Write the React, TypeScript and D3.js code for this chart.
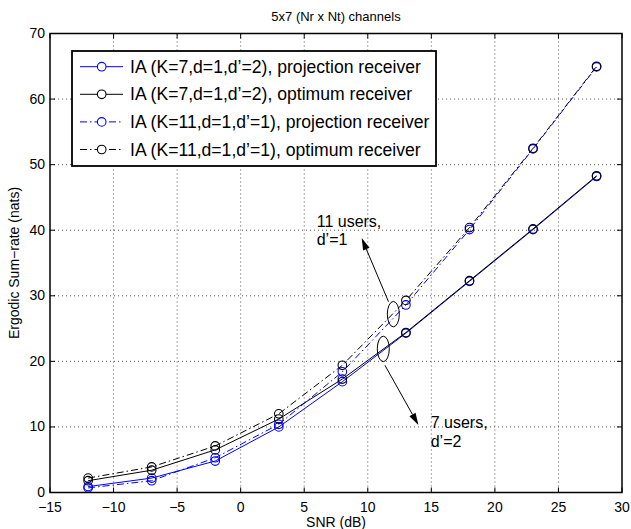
import React from 'react';
import * as d3 from 'd3';

const snr = [-12, -7, -2, 3, 8, 13, 18, 23, 28];
const k7Proj = [0.9, 2.2, 4.8, 10.0, 16.9, 24.3, 32.2, 40.1, 48.2];
const k7Opt = [1.8, 3.4, 6.5, 11.2, 17.3, 24.4, 32.3, 40.2, 48.3];
const k11Proj = [0.7, 1.8, 5.3, 10.4, 18.4, 28.6, 40.1, 52.4, 64.9];
const k11Opt = [2.2, 3.9, 7.1, 12.0, 19.4, 29.3, 40.4, 52.5, 65.0];

const xTicks = [-15, -10, -5, 0, 5, 10, 15, 20, 25, 30];
const yTicks = [0, 10, 20, 30, 40, 50, 60, 70];

const series = [
  { label: "IA (K=7,d=1,d\u2019=2), projection receiver", values: k7Proj, color: "#0000ff", dash: null },
  { label: "IA (K=7,d=1,d\u2019=2), optimum receiver", values: k7Opt, color: "#000000", dash: null },
  { label: "IA (K=11,d=1,d\u2019=1), projection receiver", values: k11Proj, color: "#0000ff", dash: "7,3,1.5,3" },
  { label: "IA (K=11,d=1,d\u2019=1), optimum receiver", values: k11Opt, color: "#000000", dash: "7,3,1.5,3" },
];

// annotations in data units
const ellipses = [
  { cx: 12.01, cy: 27.2 },
  { cx: 11.22, cy: 21.9 },
];
const arrows = [
  { x1: 11.63, y1: 29.1, x2: 9.52, y2: 38.8 },
  { x1: 11.35, y1: 19.4, x2: 13.98, y2: 10.3 },
];
const notes = [
  { x: 5.98, y: 40.5, text: "11 users," },
  { x: 5.98, y: 37.7, text: "d\u2019=1" },
  { x: 14.95, y: 9.8, text: "7 users," },
  { x: 14.95, y: 7.0, text: "d\u2019=2" },
];

const W = 631, H = 529;
const m = { left: 50, right: 622, top: 33.5, bottom: 492.5 };
const font = "'Liberation Sans', Arial, sans-serif";

export default function App() {
  const x = d3.scaleLinear().domain([-15, 30]).range([m.left, m.right]);
  const y = d3.scaleLinear().domain([0, 70]).range([m.bottom, m.top]);
  const line = d3.line<number>().x((d, i) => x(snr[i])).y(d => y(d));

  const head = (a) => {
    const x1 = x(a.x1), y1 = y(a.y1), x2 = x(a.x2), y2 = y(a.y2);
    const ang = Math.atan2(y2 - y1, x2 - x1);
    const L = 12, w = 3.5;
    const bx = x2 - L * Math.cos(ang), by = y2 - L * Math.sin(ang);
    const p1 = [bx + w * Math.sin(ang), by - w * Math.cos(ang)];
    const p2 = [bx - w * Math.sin(ang), by + w * Math.cos(ang)];
    return { x1, y1, bx, by, d: `M${x2},${y2}L${p1[0]},${p1[1]}L${p2[0]},${p2[1]}Z` };
  };

  const legX = 72, legY = 51, legW = 364, legH = 115, rowH = 27.6;

  return (
    <div style={{ position: "absolute", left: 0, top: 0 }}>
      <svg width={W} height={H} style={{ display: "block", background: "#fff" }} fontFamily={font}>
        <rect x={0} y={0} width={W} height={H} fill="#fff" />
        {/* grid */}
        {xTicks.slice(1, -1).map(t => (
          <line key={"gx" + t} x1={x(t)} x2={x(t)} y1={m.top} y2={m.bottom}
            stroke="#555" strokeWidth={1} strokeDasharray="1,3" />
        ))}
        {yTicks.slice(1, -1).map(t => (
          <line key={"gy" + t} x1={m.left} x2={m.right} y1={y(t)} y2={y(t)}
            stroke="#555" strokeWidth={1} strokeDasharray="1,3" />
        ))}
        {/* ticks */}
        {xTicks.map(t => (
          <g key={"tx" + t}>
            <line x1={x(t)} x2={x(t)} y1={m.bottom} y2={m.bottom - 5} stroke="#000" />
            <line x1={x(t)} x2={x(t)} y1={m.top} y2={m.top + 5} stroke="#000" />
            <text x={x(t)} y={512} textAnchor="middle" fontSize={14}>{t < 0 ? "\u2212" + Math.abs(t) : t}</text>
          </g>
        ))}
        {yTicks.map(t => (
          <g key={"ty" + t}>
            <line x1={m.left} x2={m.left + 5} y1={y(t)} y2={y(t)} stroke="#000" />
            <line x1={m.right} x2={m.right - 5} y1={y(t)} y2={y(t)} stroke="#000" />
            <text x={45} y={y(t) + 4.5} textAnchor="end" fontSize={14}>{t}</text>
          </g>
        ))}
        {/* series */}
        {series.map((s, si) => (
          <g key={"s" + si}>
            <path d={line(s.values)} fill="none" stroke={s.color} strokeWidth={1}
              strokeDasharray={s.dash || undefined} />
            {s.values.map((v, i) => (
              <circle key={i} cx={x(snr[i])} cy={y(v)} r={4.3} fill="none" stroke={s.color} strokeWidth={1.1} />
            ))}
          </g>
        ))}
        {/* annotations */}
        {ellipses.map((e, i) => (
          <ellipse key={"e" + i} cx={x(e.cx)} cy={y(e.cy)} rx={6} ry={12.7} fill="none" stroke="#000" strokeWidth={1} />
        ))}
        {arrows.map((a, i) => {
          const h = head(a);
          return (
            <g key={"a" + i}>
              <line x1={h.x1} y1={h.y1} x2={h.bx} y2={h.by} stroke="#000" strokeWidth={1} />
              <path d={h.d} fill="#000" />
            </g>
          );
        })}
        {notes.map((n, i) => (
          <text key={"n" + i} x={x(n.x)} y={y(n.y)} fontSize={16}>{n.text}</text>
        ))}
        {/* axes box */}
        <rect x={m.left} y={m.top} width={m.right - m.left} height={m.bottom - m.top}
          fill="none" stroke="#000" strokeWidth={1.5} />
        {/* legend */}
        <rect x={legX} y={legY} width={legW} height={legH} fill="#fff" stroke="#000" strokeWidth={1.8} />
        {series.map((s, i) => {
          const cy = legY + 15.7 + i * rowH;
          return (
            <g key={"l" + i}>
              <line x1={80} x2={123} y1={cy} y2={cy} stroke={s.color} strokeWidth={1}
                strokeDasharray={s.dash || undefined} />
              <circle cx={101.7} cy={cy} r={4.3} fill="#fff" stroke={s.color} strokeWidth={1.1} />
              <text x={130} y={cy + 6} fontSize={17.6}>{s.label}</text>
            </g>
          );
        })}
        {/* titles */}
        <text x={(m.left + m.right) / 2} y={21} textAnchor="middle" fontSize={13}>5x7 (Nr x Nt) channels</text>
        <text x={(m.left + m.right) / 2} y={527} textAnchor="middle" fontSize={14}>SNR (dB)</text>
        <text transform={`translate(19,${(m.top + m.bottom) / 2}) rotate(-90)`} textAnchor="middle" fontSize={14}>
          Ergodic Sum{"\u2212"}rate (nats)
        </text>
      </svg>
    </div>
  );
}
